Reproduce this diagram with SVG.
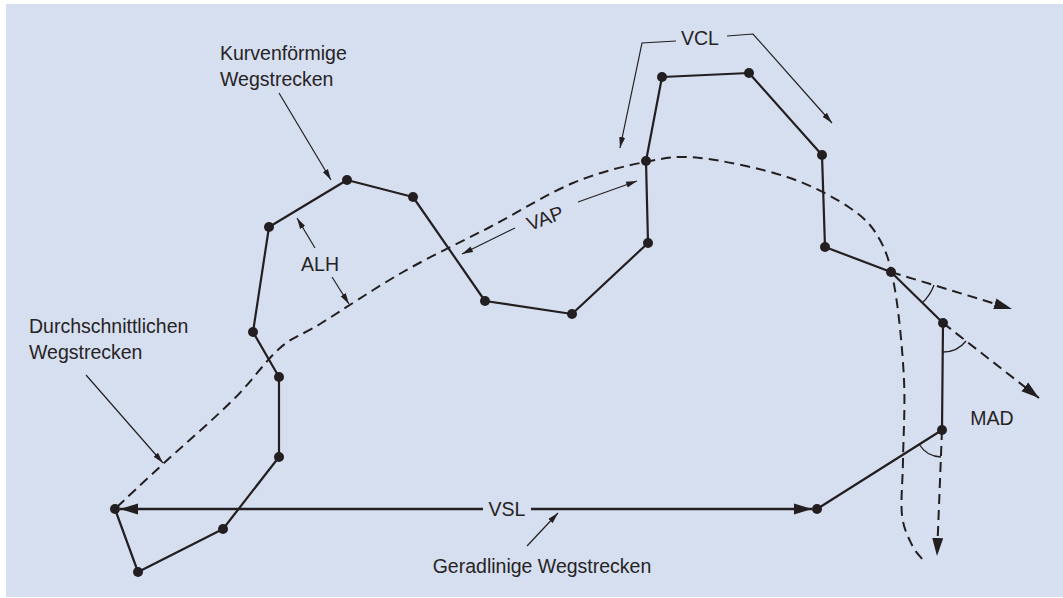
<svg xmlns="http://www.w3.org/2000/svg" width="1063" height="598" viewBox="0 0 1063 598">
  <style>
    .bg { fill: #d6dff0; }
    .track { fill: none; stroke: #231f20; stroke-width: 2.2; stroke-linejoin: round; }
    .avg { fill: none; stroke: #231f20; stroke-width: 2; stroke-dasharray: 10 6; }
    .ext { fill: none; stroke: #231f20; stroke-width: 2; stroke-dasharray: 10 6; }
    .vsl { fill: none; stroke: #231f20; stroke-width: 2.6; }
    .lead { fill: none; stroke: #231f20; stroke-width: 1.2; }
    .arc { fill: none; stroke: #231f20; stroke-width: 1.3; }
    .pt { fill: #231f20; }
    .lbl { font-family: "Liberation Sans", Arial, sans-serif; font-size: 19.5px; fill: #262324; }
    .mid { text-anchor: middle; }
  </style>
  <defs>
    <marker id="headBig" markerUnits="userSpaceOnUse" markerWidth="18" markerHeight="12" refX="18" refY="6" orient="auto-start-reverse">
      <path d="M0,0.5 L18,6 L0,11.5 Z" fill="#231f20"/>
    </marker>
    <marker id="headThin" markerUnits="userSpaceOnUse" markerWidth="11" markerHeight="7" refX="11" refY="3.5" orient="auto">
      <path d="M0,0.5 L11,3.5 L0,6.5 Z" fill="#231f20"/>
    </marker>
  </defs>

  <rect class="bg" x="6" y="4" width="1057" height="593"/>

  <g id="connectors">
    <!-- measured track -->
    <polyline class="track" points="115,509 138,572 223,529 279,457 279,377 253,332 269,227 347,180 413,197 485,301 572,314 648,243 646,161 662,77 749,73 822,155 825,247 891,272 943,323 942,430 817,509"/>

    <!-- averaged path -->
    <path class="avg" d="M117,507 C124.7,499.8 143.7,481.8 163,464 C182.3,446.2 213.5,419.3 233,400 C252.5,380.7 265.5,360.7 280,348 C294.5,335.3 299.5,336.7 320,324 C340.5,311.3 374.7,288.2 403,272 C431.3,255.8 461.7,241.8 490,227 C518.3,212.2 547.2,193.8 573,183 C598.8,172.2 623.8,166.2 645,162 C666.2,157.8 676.3,155.5 700,158 C723.7,160.5 762,168.7 787,177 C812,185.3 834.5,197.5 850,208 C865.5,218.5 872.5,226.3 880,240 C887.5,253.7 891,266.7 895,290 C899,313.3 902.7,351.7 904,380 C905.3,408.3 903.3,437.5 903,460 C902.7,482.5 900.5,500.8 902,515 C903.5,529.2 908.5,537.5 912,545 C915.5,552.5 921.2,557.5 923,560"/>

    <!-- straight-line path -->
    <line class="vsl" x1="120" y1="509" x2="483" y2="509" marker-start="url(#headBig)"/>
    <line class="vsl" x1="531" y1="509" x2="812" y2="509" marker-end="url(#headBig)"/>

    <!-- direction extensions for MAD -->
    <line class="ext" x1="891" y1="272" x2="1012" y2="309" marker-end="url(#headBig)"/>
    <line class="ext" x1="943" y1="323" x2="1039" y2="398" marker-end="url(#headBig)"/>
    <line class="ext" x1="942" y1="430" x2="937" y2="556" marker-end="url(#headBig)"/>

    <!-- angle arcs -->
    <path class="arc" d="M934,285 A44,44 0 0 1 922,303"/>
    <path class="arc" d="M966,341 A29,29 0 0 1 943,352"/>
    <path class="arc" d="M941,457 A27,27 0 0 1 919,444"/>

    <!-- label leaders -->
    <line class="lead" x1="279" y1="93" x2="331" y2="180" marker-end="url(#headThin)"/>
    <polyline class="lead" points="676,41 642,43 620,148" marker-end="url(#headThin)"/>
    <polyline class="lead" points="727,36 753,34 832,123" marker-end="url(#headThin)"/>
    <line class="lead" x1="578" y1="202" x2="637" y2="181" marker-end="url(#headThin)"/>
    <line class="lead" x1="515" y1="228" x2="462" y2="254" marker-end="url(#headThin)"/>
    <line class="lead" x1="315" y1="248" x2="297" y2="218" marker-end="url(#headThin)"/>
    <line class="lead" x1="332" y1="277" x2="349" y2="304" marker-end="url(#headThin)"/>
    <line class="lead" x1="86" y1="375" x2="163" y2="463" marker-end="url(#headThin)"/>
    <line class="lead" x1="527" y1="546" x2="558" y2="513" marker-end="url(#headThin)"/>
  </g>

  <!-- track points -->
  <g id="p01"><circle class="pt" cx="115" cy="509" r="5"/></g>
  <g id="p02"><circle class="pt" cx="138" cy="572" r="5"/></g>
  <g id="p03"><circle class="pt" cx="223" cy="529" r="5"/></g>
  <g id="p04"><circle class="pt" cx="279" cy="457" r="5"/></g>
  <g id="p05"><circle class="pt" cx="279" cy="377" r="5"/></g>
  <g id="p06"><circle class="pt" cx="253" cy="332" r="5"/></g>
  <g id="p07"><circle class="pt" cx="269" cy="227" r="5"/></g>
  <g id="p08"><circle class="pt" cx="347" cy="180" r="5"/></g>
  <g id="p09"><circle class="pt" cx="413" cy="197" r="5"/></g>
  <g id="p10"><circle class="pt" cx="485" cy="301" r="5"/></g>
  <g id="p11"><circle class="pt" cx="572" cy="314" r="5"/></g>
  <g id="p12"><circle class="pt" cx="648" cy="243" r="5"/></g>
  <g id="p13"><circle class="pt" cx="646" cy="161" r="5"/></g>
  <g id="p14"><circle class="pt" cx="662" cy="77" r="5"/></g>
  <g id="p15"><circle class="pt" cx="749" cy="73" r="5"/></g>
  <g id="p16"><circle class="pt" cx="822" cy="155" r="5"/></g>
  <g id="p17"><circle class="pt" cx="825" cy="247" r="5"/></g>
  <g id="p18"><circle class="pt" cx="891" cy="272" r="5"/></g>
  <g id="p19"><circle class="pt" cx="943" cy="323" r="5"/></g>
  <g id="p20"><circle class="pt" cx="942" cy="430" r="5"/></g>
  <g id="p21"><circle class="pt" cx="817" cy="509" r="5"/></g>

  <!-- labels -->
  <g id="label-curvilinear">
    <text class="lbl" x="220" y="60">Kurvenförmige</text>
    <text class="lbl" x="220" y="86">Wegstrecken</text>
  </g>
  <g id="label-average">
    <text class="lbl" x="29" y="333">Durchschnittlichen</text>
    <text class="lbl" x="29" y="359">Wegstrecken</text>
  </g>
  <g id="label-straight">
    <text class="lbl mid" x="542" y="573">Geradlinige Wegstrecken</text>
  </g>
  <g id="label-vcl"><text class="lbl mid" x="700" y="45">VCL</text></g>
  <g id="label-vap"><text class="lbl mid" x="545" y="225" transform="rotate(-20 545 218)">VAP</text></g>
  <g id="label-alh"><text class="lbl mid" x="320" y="271">ALH</text></g>
  <g id="label-vsl"><text class="lbl mid" x="507" y="516">VSL</text></g>
  <g id="label-mad"><text class="lbl mid" x="992" y="425">MAD</text></g>
</svg>
